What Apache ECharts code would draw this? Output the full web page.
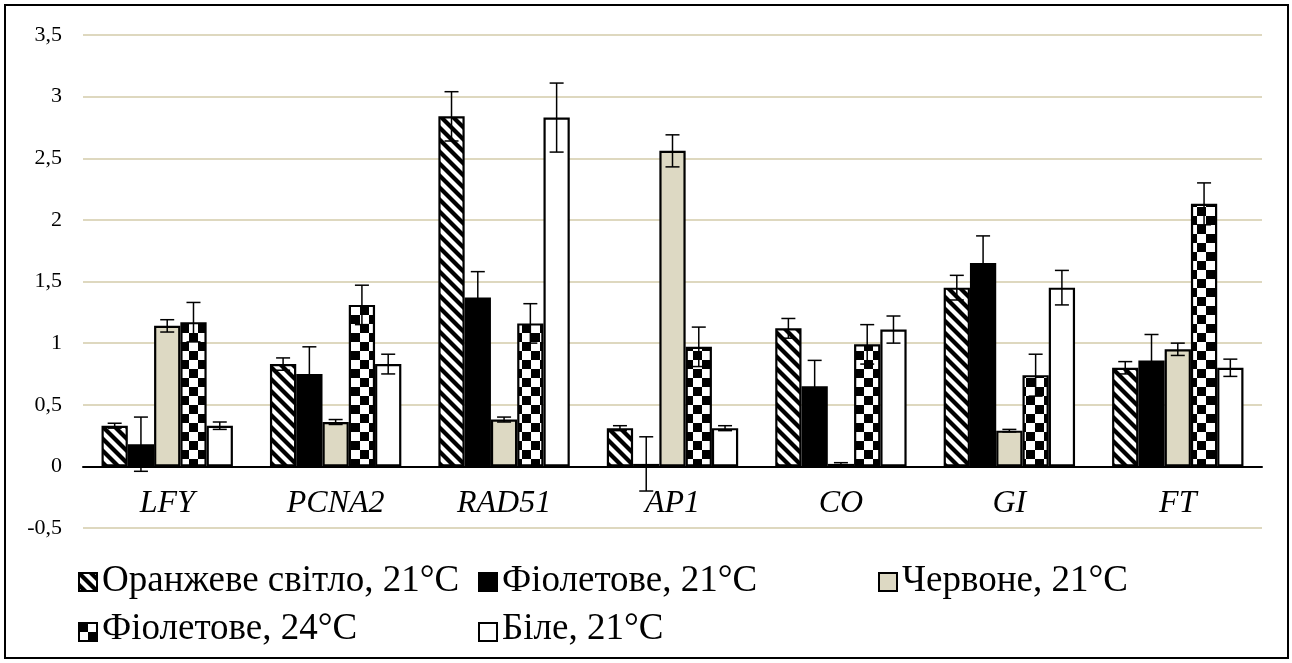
<!DOCTYPE html>
<html>
<head>
<meta charset="utf-8">
<script src="https://cdn.jsdelivr.net/npm/echarts@6/dist/echarts.min.js"></script>
<style>
  html, body { margin: 0; padding: 0; background: #fff; }
  #chart { width: 1292px; height: 663px; }
</style>
</head>
<body>
<div id="chart"></div>
<script>
// genes
const categories = ['LFY', 'PCNA2', 'RAD51', 'AP1', 'CO', 'GI', 'FT']
const seriesNames = ['Оранжеве світло, 21°C', 'Фіолетове, 21°C', 'Червоне, 21°C', 'Фіолетове, 24°C', 'Біле, 21°C']

// relative expression
const orange21 = [0.33, 0.83, 2.84, 0.31, 1.12, 1.45, 0.80]
const violet21 = [0.18, 0.75, 1.37, 0.02, 0.65, 1.65, 0.86]
const red21 = [1.14, 0.36, 0.38, 2.56, 0.02, 0.29, 0.95]
const violet24 = [1.17, 1.31, 1.16, 0.97, 0.99, 0.74, 2.13]
const white21 = [0.33, 0.83, 2.83, 0.31, 1.11, 1.45, 0.80]

// error bar half-lengths
const orange21Err = [0.02, 0.05, 0.20, 0.02, 0.08, 0.10, 0.05]
const violet21Err = [0.22, 0.22, 0.21, 0.22, 0.21, 0.22, 0.21]
const red21Err = [0.05, 0.02, 0.02, 0.13, 0.01, 0.01, 0.05]
const violet24Err = [0.16, 0.16, 0.16, 0.16, 0.16, 0.17, 0.17]
const white21Err = [0.03, 0.08, 0.28, 0.02, 0.11, 0.14, 0.07]

const yTicks = [-0.5, 0, 0.5, 1, 1.5, 2, 2.5, 3, 3.5]

const values = [orange21, violet21, red21, violet24, white21]
const errors = [orange21Err, violet21Err, red21Err, violet24Err, white21Err]

const serif = 'Liberation Serif'
const barCategoryGap = 0.22

// fill patterns
function stripes () {
  const c = document.createElement('canvas')
  c.width = 12
  c.height = 12
  const ctx = c.getContext('2d')
  ctx.fillStyle = '#fff'
  ctx.fillRect(0, 0, 12, 12)
  ctx.strokeStyle = '#000'
  ctx.lineWidth = 4.2
  for (let k = -1; k <= 1; k++) {
    ctx.beginPath()
    ctx.moveTo(k * 12 - 3, -3)
    ctx.lineTo(k * 12 + 15, 15)
    ctx.stroke()
  }
  return c
}
function checker () {
  const c = document.createElement('canvas')
  c.width = 18
  c.height = 18
  const ctx = c.getContext('2d')
  ctx.fillStyle = '#fff'
  ctx.fillRect(0, 0, 18, 18)
  ctx.fillStyle = '#000'
  ctx.fillRect(0, 0, 9, 9)
  ctx.fillRect(9, 9, 9, 9)
  return c
}

const fills = [
  { image: stripes(), repeat: 'repeat' },
  '#000',
  '#ddd9c3',
  { image: checker(), repeat: 'repeat' },
  '#fff'
]

const barSeries = seriesNames.map(function (name, i) {
  return {
    name: name,
    type: 'bar',
    data: values[i],
    barGap: '0%',
    barCategoryGap: (barCategoryGap * 100) + '%',
    itemStyle: {
      color: fills[i],
      borderColor: '#000',
      borderWidth: 2.2
    },
    z: 2
  }
})

const errData = []
values.forEach(function (arr, s) {
  arr.forEach(function (v, c) {
    errData.push([c, v, errors[s][c], s])
  })
})

const errSeries = {
  type: 'custom',
  data: errData,
  encode: { x: 0, y: 1 },
  z: 5,
  silent: true,
  renderItem: function (params, api) {
    const c = api.value(0)
    const v = api.value(1)
    const e = api.value(2)
    const s = api.value(3)
    const bandW = api.size([1, 0])[0]
    const barW = bandW * (1 - barCategoryGap) / 5
    const center = api.coord([c, v])[0]
    const x = center + (s - 2) * barW
    const top = api.coord([c, v + e])[1]
    const bottom = api.coord([c, v - e])[1]
    const cap = 7
    const style = { stroke: '#000', lineWidth: 1.5, fill: null }
    return {
      type: 'group',
      children: [
        { type: 'line', shape: { x1: x, y1: top, x2: x, y2: bottom }, style: style },
        { type: 'line', shape: { x1: x - cap, y1: top, x2: x + cap, y2: top }, style: style },
        { type: 'line', shape: { x1: x - cap, y1: bottom, x2: x + cap, y2: bottom }, style: style }
      ]
    }
  }
}

// legend: icons from echarts, the text is added as graphic below
// (fontFamily set on legend / axis labels was not picked up here)
const legendCols = [78, 478, 878]
const legendRows = [581, 629]
const legendIcon = 18
function legendCol (names, left) {
  return {
    data: names,
    orient: 'vertical',
    left: left,
    top: legendRows[0] - legendIcon / 2,
    padding: 0,
    itemGap: legendRows[1] - legendRows[0] - legendIcon,
    itemWidth: legendIcon,
    itemHeight: legendIcon,
    itemStyle: { borderWidth: 2 },
    icon: 'rect',
    selectedMode: false,
    formatter: function () { return '' }
  }
}

const myChart = echarts.init(document.getElementById('chart'))
myChart.setOption({
  backgroundColor: '#fff',
  animation: false,
  grid: {
    left: 83,
    right: 30,
    top: 35,
    bottom: 135
  },
  legend: [
    legendCol([seriesNames[0], seriesNames[3]], legendCols[0]),
    legendCol([seriesNames[1], seriesNames[4]], legendCols[1]),
    legendCol([seriesNames[2]], legendCols[2])
  ],
  xAxis: {
    type: 'category',
    data: categories,
    axisTick: { show: false },
    axisLine: { lineStyle: { color: '#000', width: 2 } },
    axisLabel: { show: false }
  },
  yAxis: {
    type: 'value',
    min: yTicks[0],
    max: yTicks[yTicks.length - 1],
    interval: 0.5,
    axisLine: { show: false },
    axisTick: { show: false },
    splitLine: { lineStyle: { color: '#d3cbaa', width: 1.5 } },
    axisLabel: { show: false }
  },
  series: barSeries.concat([errSeries])
})

// texts, placed through the chart's own scales
const graphics = [{
  type: 'rect',
  shape: { x: 5, y: 5, width: 1283, height: 653 },
  style: { fill: null, stroke: '#000', lineWidth: 2 },
  silent: true
}]
yTicks.forEach(function (v) {
  graphics.push({
    type: 'text',
    x: 62,
    y: myChart.convertToPixel({ yAxisIndex: 0 }, v),
    silent: true,
    style: {
      text: String(v).replace('.', ','),
      fontFamily: serif,
      fontSize: 22,
      fill: '#000',
      align: 'right',
      verticalAlign: 'middle'
    }
  })
})
const zeroY = myChart.convertToPixel({ yAxisIndex: 0 }, 0)
categories.forEach(function (c) {
  graphics.push({
    type: 'text',
    x: myChart.convertToPixel({ xAxisIndex: 0 }, c),
    y: zeroY + 37,
    silent: true,
    style: {
      text: c,
      fontFamily: serif,
      fontStyle: 'italic',
      fontSize: 32,
      fill: '#000',
      align: 'center',
      verticalAlign: 'middle'
    }
  })
})
const legendOrder = [[0, 0], [1, 0], [2, 0], [0, 1], [1, 1]]
seriesNames.forEach(function (name, i) {
  graphics.push({
    type: 'text',
    x: legendCols[legendOrder[i][0]] + legendIcon + 6,
    y: legendRows[legendOrder[i][1]],
    silent: true,
    style: {
      text: name,
      fontFamily: serif,
      fontSize: 37,
      fill: '#000',
      align: 'left',
      verticalAlign: 'middle'
    }
  })
})
myChart.setOption({ graphic: graphics })

window.addEventListener('resize', function () {
  myChart.resize()
})
</script>
</body>
</html>
